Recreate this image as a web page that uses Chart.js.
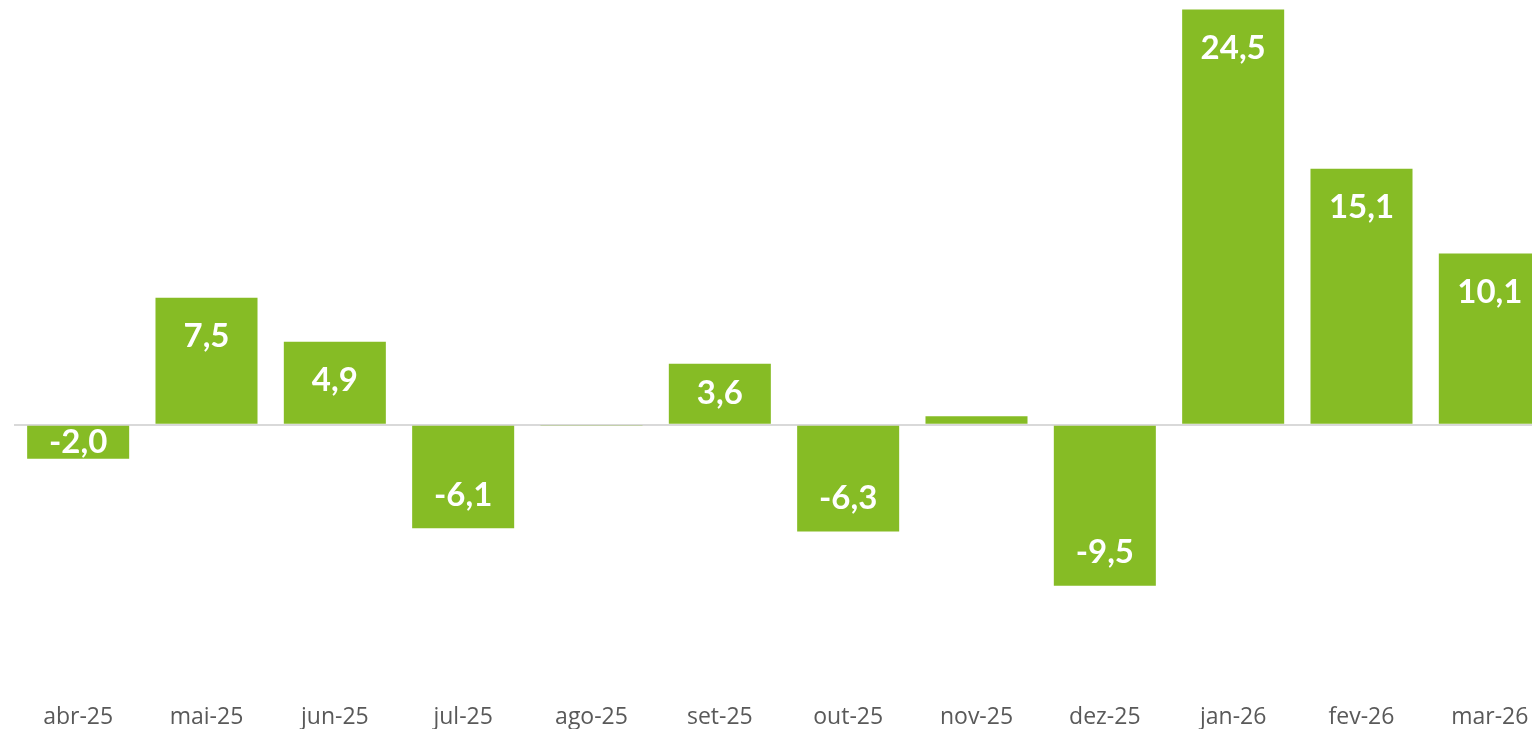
<!DOCTYPE html>
<html>
<head>
<meta charset="utf-8">
<script src="https://cdn.jsdelivr.net/npm/chart.js@4/dist/chart.umd.min.js"></script>
<style>
  html, body { margin: 0; padding: 0; background: #fff; overflow: hidden; }
  #wrap { position: absolute; left: 14px; top: 1px; width: 1540px; height: 728px; }
</style>
</head>
<body>
<div id="wrap"><canvas id="chart"></canvas></div>
<script>
// 데이터
const months = ['abr-25', 'mai-25', 'jun-25', 'jul-25', 'ago-25', 'set-25',
                'out-25', 'nov-25', 'dez-25', 'jan-26', 'fev-26', 'mar-26'];
const values = [-2.0, 7.5, 4.9, -6.1, -0.05, 3.6, -6.3, 0.5, -9.5, 24.5, 15.1, 10.1];
const yMin = -15;
const yMax = 25;

// 색상
const C = {
  bar:   '#86bc25',
  zero:  '#d9d9d9',
  tick:  '#595959',
  label: '#ffffff',
};

const fmt = v => v.toFixed(1).replace('.', ',');

// 막대 안쪽 끝 라벨
const insideEndLabels = {
  id: 'insideEndLabels',
  afterDatasetsDraw(chart) {
    const ctx = chart.ctx;
    const meta = chart.getDatasetMeta(0);
    ctx.save();
    ctx.font = "bold 33px Lato, 'Open Sans', sans-serif";
    ctx.fillStyle = C.label;
    ctx.textAlign = 'center';
    ctx.textBaseline = 'middle';
    meta.data.forEach((bar, i) => {
      const v = values[i];
      if (Math.abs(v) < 1) return;
      const h = Math.abs(bar.base - bar.y);
      const off = Math.min(v > 0 ? 39 : 33, h / 2);
      const y = v > 0 ? bar.y + off : bar.y - off;
      ctx.fillText(fmt(v), bar.x, y);
    });
    ctx.restore();
  }
};

new Chart(document.getElementById('chart'), {
  type: 'bar',
  data: {
    labels: months,
    datasets: [{
      data: values,
      backgroundColor: C.bar,
      borderWidth: 0,
      categoryPercentage: 1,
      barPercentage: 0.795,
    }]
  },
  options: {
    responsive: true,
    maintainAspectRatio: false,
    animation: false,
    layout: { padding: 0 },
    plugins: { legend: { display: false }, tooltip: { enabled: false } },
    scales: {
      x: {
        grid: { display: false },
        border: { display: false },
        ticks: {
          color: C.tick,
          font: { family: "'Open Sans', Lato, sans-serif", size: 23 },
          padding: 17,
          maxRotation: 0,
          autoSkip: false,
        },
        afterFit: s => { s.height = 50; },
      },
      y: {
        min: yMin, max: yMax,
        border: { display: false },
        grid: {
          drawTicks: false,
          lineWidth: 2,
          color: c => c.tick && c.tick.value === 0 ? C.zero : 'transparent',
        },
        ticks: { display: false, stepSize: 5 },
        afterFit: s => { s.width = 0; },
      }
    }
  },
  plugins: [insideEndLabels]
});
</script>
</body>
</html>
